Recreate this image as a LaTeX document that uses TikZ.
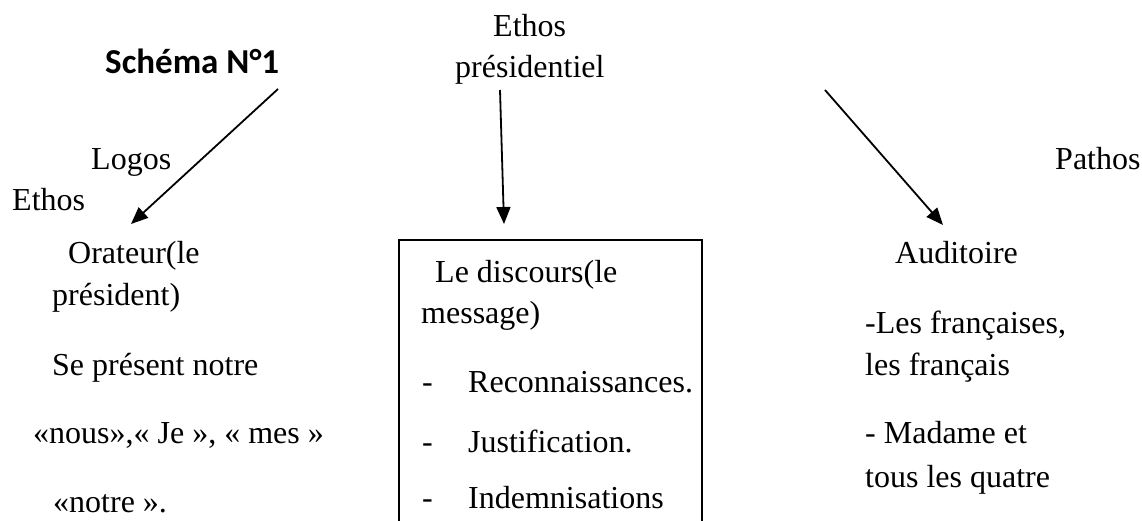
\documentclass[tikz,border=0pt]{standalone}
\usepackage{fontspec}
\setmainfont{Liberation Serif}
\newfontfamily\titlefont{Carlito}
\usetikzlibrary{arrows.meta}
\begin{document}
\begin{tikzpicture}[x=1pt,y=-1pt,
  txt/.style={anchor=base west,inner sep=0pt,font=\fontsize{32}{38}\selectfont},
  ttl/.style={anchor=base west,inner sep=0pt,font=\titlefont\bfseries\fontsize{35}{40}\selectfont},
  arr/.style={line width=1.8pt,-{Triangle[length=17pt,width=14pt]}},
  boxline/.style={line width=1.8pt}]
\clip (0,0) rectangle (1142,521);
% title
\node[ttl] (title) at (105,74) {Schéma N°1};
% left
\node[txt] (logos) at (91,170) {Logos};
\node[txt] (ethosL) at (12,211) {Ethos};
\node[txt] (or1) at (68,263) {Orateur(le};
\node[txt] (or2) at (52,305) {président)};
\node[txt] (or3) at (52,375) {Se présent notre};
\node[txt] (or4) at (33,443) {«nous»,« Je », « mes »};
\node[txt] (or5) at (53,512) {«notre ».};
% middle
\node[txt] (ethosM1) at (493,37) {Ethos};
\node[txt] (ethosM2) at (455,78) {présidentiel};
\node[txt] (d1) at (435,282) {Le discours(le};
\node[txt] (d2) at (421,323) {message)};
\node[txt] (b1) at (422,392) {-};
\node[txt] (i1) at (468,392) {Reconnaissances.};
\node[txt] (b2) at (422,452) {-};
\node[txt] (i2) at (468,452) {Justification.};
\node[txt] (b3) at (422,508) {-};
\node[txt] (i3) at (468,508) {Indemnisations};
% right
\node[txt] (pathos) at (1055,170) {Pathos};
\node[txt] (aud) at (895,263) {Auditoire};
\node[txt] (a1) at (865,333) {-Les françaises,};
\node[txt] (a2) at (865,375) {les français};
\node[txt] (a3) at (865,443) {- Madame et};
\node[txt] (a4) at (865,487) {tous les quatre};
% box
\coordinate (boxBL) at (399,600);
\coordinate (boxTL) at (399,240);
\coordinate (boxTR) at (702,240);
\coordinate (boxBR) at (702,600);
\draw[boxline] (boxBL) -- (boxTL) -- (boxTR) -- (boxBR);
% arrows
\coordinate (s1) at (278,89);
\coordinate (e1) at (131,224);
\coordinate (s2) at (500,90);
\coordinate (e2) at (504,224);
\coordinate (s3) at (825,90);
\coordinate (e3) at (943,225);
\draw[arr] (s1) -- (e1);
\draw[arr] (s2) -- (e2);
\draw[arr] (s3) -- (e3);
\end{tikzpicture}
\end{document}
